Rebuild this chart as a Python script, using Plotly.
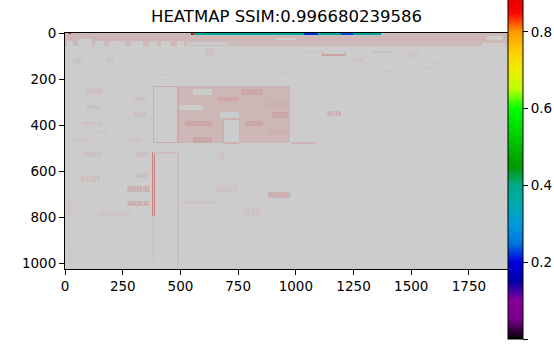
import math
import numpy as np
import plotly.graph_objects as go

# ---------------- data ----------------
TITLE = "HEATMAP SSIM:0.996680239586"
IMG_W, IMG_H = 1920, 1024          # SSIM map size (pixels)
CELL = 4                            # sampling of the map

x_tick_vals = [0, 250, 500, 750, 1000, 1250, 1500, 1750]
y_tick_vals = [0, 200, 400, 600, 800, 1000]
cbar_tick_vals = [0.0, 0.2, 0.4, 0.6, 0.8, 1.0]

# SSIM map regions (x0, x1, y0, y1, ssim)
band_regions = [
    (0, 1920, 0, 36, 0.9945),
    (0, 1920, 36, 56, 0.9955),
]
band_gaps = [
    (10, 36, 38, 54, 1.0), (58, 116, 30, 56, 1.0), (135, 166, 38, 54, 1.0),
    (192, 257, 38, 54, 1.0), (289, 340, 38, 54, 1.0), (366, 398, 38, 54, 1.0),
    (419, 455, 38, 54, 1.0), (484, 513, 38, 54, 1.0), (528, 708, 40, 52, 1.0),
    (912, 997, 22, 30, 1.0), (1808, 1907, 44, 56, 1.0), (1830, 1900, 12, 30, 1.0),
]
top_edge = [
    (16, 24, 0, 4, 0.95), (548, 556, 0, 8, 0.93),
    (556, 1036, 0, 8, 0.37), (1036, 1097, 0, 8, 0.22), (1097, 1197, 0, 8, 0.38),
    (1197, 1250, 0, 8, 0.23), (1250, 1365, 0, 8, 0.38),
]
panel_regions = [
    (494, 975, 233, 476, 0.9945),
]
panel_text = [
    (556, 636, 244, 265, 1.0), (766, 860, 244, 265, 0.991), (662, 749, 279, 296, 0.991),
    (499, 600, 312, 334, 1.0), (672, 751, 346, 366, 1.0), (896, 968, 346, 366, 0.991),
    (520, 636, 380, 402, 0.991), (780, 860, 380, 402, 0.991), (556, 636, 452, 474, 0.991),
    (708, 744, 452, 474, 0.991), (686, 754, 372, 476, 1.0),
]
# outlined boxes (x0, x1, y0, y1, line width, ssim)
outlines = [
    (380, 490, 230, 476, 4, 0.992),
    (684, 756, 370, 478, 4, 0.993),
    (1113, 1217, 76, 98, 4, 0.99),
    (380, 491, 519, 1000, 4, 0.996),
]
lines = [
    (983, 1084, 474, 478, 0.994), (378, 387, 519, 793, 0.982),
    (1217, 1320, 76, 80, 0.995), (1019, 1113, 78, 82, 0.997),
    (1330, 1420, 82, 86, 0.997),
]
# faint text-like speckle (drawn stippled)
faint_text = [
    (268, 361, 666, 688, 0.991), (268, 361, 729, 749, 0.991), (880, 975, 694, 716, 0.991),
    (1136, 1196, 340, 358, 0.992), (875, 966, 301, 321, 0.993), (880, 960, 420, 440, 0.993),
    (80, 159, 519, 539, 0.996), (304, 357, 519, 536, 0.996),
    (304, 357, 611, 627, 0.995), (65, 152, 623, 645, 0.996), (152, 282, 772, 789, 0.997),
    (9, 35, 731, 796, 0.997), (513, 643, 728, 738, 0.997), (658, 744, 663, 688, 0.997),
    (780, 845, 763, 789, 0.997), (95, 160, 240, 262, 0.996), (98, 152, 312, 327, 0.996),
    (75, 160, 385, 400, 0.996), (150, 180, 420, 430, 0.997), (300, 350, 278, 294, 0.996),
    (300, 350, 347, 363, 0.996), (268, 333, 455, 471, 0.997), (35, 109, 460, 470, 0.997),
    (39, 70, 110, 126, 0.996), (178, 209, 110, 125, 0.997), (330, 360, 135, 140, 0.997),
    (608, 638, 70, 100, 0.996), (760, 806, 130, 135, 0.997), (1250, 1296, 110, 126, 0.997),
    (1480, 1525, 87, 104, 0.997), (1598, 1610, 125, 135, 0.997), (18, 26, 946, 1000, 0.997),
    (1157, 1165, 258, 266, 0.996), (660, 690, 520, 550, 0.997), (1560, 1600, 150, 156, 0.997),
    (940, 980, 170, 176, 0.997), (420, 460, 180, 186, 0.997), (1380, 1420, 160, 166, 0.997),
]

# ---------------- colour map (matplotlib nipy_spectral) ----------------
spectral_pts = [
    (0.00, (0, 0, 0)), (0.05, (.4667, 0, .5333)), (0.10, (.5333, 0, .6)),
    (0.15, (0, 0, .6667)), (0.20, (0, 0, .8667)), (0.25, (0, .4667, .8667)),
    (0.30, (0, .6, .8667)), (0.35, (0, .6667, .6667)), (0.40, (0, .6667, .5333)),
    (0.45, (0, .6, 0)), (0.50, (0, .7333, 0)), (0.55, (0, .8667, 0)),
    (0.60, (0, 1, 0)), (0.65, (.7333, 1, 0)), (0.70, (.9333, .9333, 0)),
    (0.75, (1, .8, 0)), (0.80, (1, .6, 0)), (0.85, (1, 0, 0)),
    (0.90, (.8667, 0, 0)), (0.95, (.8, 0, 0)), (1.00, (.8, .8, .8)),
]
colorscale = [[p, "rgb(%d,%d,%d)" % tuple(round(c * 255) for c in rgb)] for p, rgb in spectral_pts]

# ---------------- build the map ----------------
ny, nx = IMG_H // CELL, IMG_W // CELL
z = np.ones((ny, nx))
iy, ix = np.mgrid[0:ny, 0:nx]
stipple = ((ix + iy) % 2 == 0) | ((ix % 3) == 0)


def cells(x0, x1, y0, y1):
    return (slice(y0 // CELL, max(y0 // CELL + 1, math.ceil(y1 / CELL))),
            slice(x0 // CELL, max(x0 // CELL + 1, math.ceil(x1 / CELL))))


def fill(x0, x1, y0, y1, v):
    z[cells(x0, x1, y0, y1)] = v


def fill_stippled(x0, x1, y0, y1, v):
    sl = cells(x0, x1, y0, y1)
    sub = z[sl]
    sub[stipple[sl]] = v


for group in (band_regions, band_gaps, top_edge, panel_regions, panel_text, lines):
    for (x0, x1, y0, y1, v) in group:
        fill(x0, x1, y0, y1, v)
for (x0, x1, y0, y1, v) in faint_text:
    fill_stippled(x0, x1, y0, y1, v)
for (x0, x1, y0, y1, w, v) in outlines:
    fill(x0, x1, y0, y0 + w, v)
    fill(x0, x1, y1 - w, y1, v)
    fill(x0, x0 + w, y0, y1, v)
    fill(x1 - w, x1, y0, y1, v)

z = np.round(z, 4)

# ---------------- figure ----------------
W, H = 554, 345
ML, MR, MT, MB = 65, 46, 33, 76
plot_h = H - MT - MB
cbar_top_px, cbar_bot_px = -44.75, 339.0
cbar_len = (cbar_bot_px - cbar_top_px) / plot_h
cbar_y = ((H - MB) - (cbar_top_px + cbar_bot_px) / 2) / plot_h

font = "DejaVu Sans"

fig = go.Figure(go.Heatmap(
    z=z, x0=CELL / 2 - 0.5, dx=CELL, y0=CELL / 2 - 0.5, dy=CELL,
    zmin=0, zmax=1, colorscale=colorscale, hoverinfo="skip",
    colorbar=dict(
        x=1, xanchor="left", xpad=0, y=cbar_y, yanchor="middle", ypad=0,
        len=cbar_len, lenmode="fraction", thickness=15, thicknessmode="pixels",
        outlinewidth=1, outlinecolor="black",
        tickvals=cbar_tick_vals, tickformat=".1f", ticks="outside", ticklen=5,
        tickwidth=1, tickcolor="black",
        tickfont=dict(family=font, size=13.5, color="black"),
    ),
))

fig.update_xaxes(
    range=[-0.5, IMG_W - 0.5], tickvals=x_tick_vals, ticks="outside", ticklen=5,
    tickwidth=1, tickcolor="black", showline=True, linecolor="black", linewidth=1,
    mirror=True, showgrid=False, zeroline=False,
    tickfont=dict(family=font, size=13.5, color="black"),
)
fig.update_yaxes(
    range=[IMG_H - 0.5, -0.5], tickvals=y_tick_vals, ticks="outside", ticklen=5,
    tickwidth=1, tickcolor="black", showline=True, linecolor="black", linewidth=1,
    mirror=True, showgrid=False, zeroline=False,
    tickfont=dict(family=font, size=13.5, color="black"),
)

fig.add_annotation(
    text=TITLE, xref="paper", yref="paper", x=0.5, y=(H - MB - 16.5) / plot_h,
    xanchor="center", yanchor="middle", showarrow=False,
    font=dict(family=font, size=16.5, color="black"),
)

fig.update_layout(
    width=W, height=H, margin=dict(l=ML, r=MR, t=MT, b=MB, pad=0, autoexpand=False),
    paper_bgcolor="white", plot_bgcolor="white", showlegend=False,
)

fig.write_html("out.html", config={"displayModeBar": False})
